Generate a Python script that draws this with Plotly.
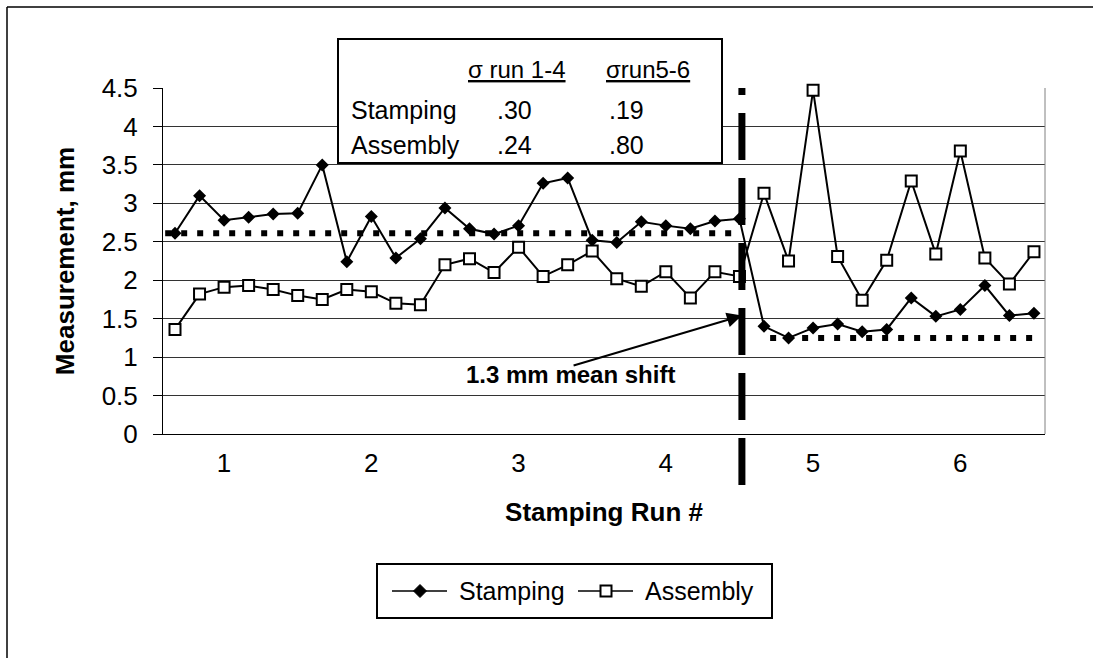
import plotly.graph_objects as go

# ---------------- data ----------------
run_labels = ["1", "2", "3", "4", "5", "6"]
samples_per_run = 6
stamping = [2.61, 3.10, 2.78, 2.82, 2.86, 2.87, 3.50, 2.24, 2.83, 2.29, 2.54, 2.94,
            2.67, 2.60, 2.71, 3.26, 3.33, 2.52, 2.49, 2.76, 2.71, 2.67, 2.77, 2.80,
            1.40, 1.25, 1.38, 1.43, 1.33, 1.36, 1.77, 1.53, 1.62, 1.93, 1.54, 1.57]
assembly = [1.36, 1.82, 1.91, 1.93, 1.88, 1.80, 1.75, 1.88, 1.85, 1.70, 1.68, 2.20,
            2.28, 2.10, 2.43, 2.05, 2.20, 2.38, 2.02, 1.92, 2.11, 1.77, 2.11, 2.05,
            3.13, 2.25, 4.47, 2.31, 1.74, 2.26, 3.29, 2.34, 3.68, 2.29, 1.95, 2.37]
mean_runs_1_4 = 2.61
mean_runs_5_6 = 1.25
series_names = ["Stamping", "Assembly"]
table_headers = ["σ run 1-4", "σrun5-6"]
table_rows = ["Stamping", "Assembly"]
table_values = [[".30", ".19"], [".24", ".80"]]
shift_label = "1.3 mm mean shift"
shift_point_value = 1.54

# ---------------- layout helpers ----------------
W, H = 1093, 658
L, R, T, B = 163, 48, 88, 224
PW = W - L - R
PH = H - T - B
FONT = "Arial, Liberation Sans, sans-serif"
X_RANGE = [-0.489, 35.45]
Y_RANGE = [0, 4.5]


def px(x):
    return (x - L) / PW


def py(y):
    return (H - B - y) / PH


n = len(stamping)
xs = list(range(n))
tickvals = [i * samples_per_run + 2 for i in range(len(run_labels))]
n_before = 4 * samples_per_run
boundary_x = n_before - 1 + 0.1

dot_line = dict(color="black", width=6, dash="6px,10px")
stamp_marker = dict(symbol="diamond", size=10, color="black")
asm_marker = dict(symbol="square", size=11, color="white", line=dict(color="black", width=2))

fig = go.Figure()

# mean lines
fig.add_trace(go.Scatter(x=[-0.4, n_before - 1], y=[mean_runs_1_4] * 2, mode="lines",
                         line=dot_line, showlegend=False, hoverinfo="skip"))
fig.add_trace(go.Scatter(x=[n_before + 0.25, n - 1], y=[mean_runs_5_6] * 2, mode="lines",
                         line=dot_line, showlegend=False, hoverinfo="skip"))

fig.add_trace(go.Scatter(x=xs, y=stamping, mode="lines+markers", name=series_names[0],
                         line=dict(color="black", width=2), marker=stamp_marker,
                         showlegend=False, cliponaxis=False))
fig.add_trace(go.Scatter(x=xs, y=assembly, mode="lines+markers", name=series_names[1],
                         line=dict(color="black", width=2), marker=asm_marker,
                         showlegend=False, cliponaxis=False))

shapes = []
annotations = []

# ---- custom legend (box, sample lines, symbols, labels) ----
LEG_Y = 591
shapes.append(dict(type="rect", xref="paper", yref="paper", x0=px(377), x1=px(772),
                   y0=py(618), y1=py(564), line=dict(color="black", width=2)))
leg_lines = [(392, 447), (578, 633)]
leg_text_x = [457, 643]
for k in range(2):
    shapes.append(dict(type="line", xref="paper", yref="paper", x0=px(leg_lines[k][0]),
                       x1=px(leg_lines[k][1]), y0=py(LEG_Y), y1=py(LEG_Y),
                       line=dict(color="black", width=1.5)))
    annotations.append(dict(xref="paper", yref="paper", x=px(leg_text_x[k]), y=py(LEG_Y),
                            text=series_names[k], showarrow=False, xanchor="left",
                            yanchor="middle", font=dict(family=FONT, size=25, color="black")))
# diamond symbol
cx, r = 420, 6.5
diamond_path = "M {a},{b} L {c},{d} L {a},{e} L {f},{d} Z".format(
    a=px(cx), b=py(LEG_Y - r), c=px(cx + r), d=py(LEG_Y), e=py(LEG_Y + r), f=px(cx - r))
shapes.append(dict(type="path", xref="paper", yref="paper", path=diamond_path,
                   fillcolor="black", line=dict(color="black", width=1)))
# square symbol
cx, r = 606, 5.5
shapes.append(dict(type="rect", xref="paper", yref="paper", x0=px(cx - r), x1=px(cx + r),
                   y0=py(LEG_Y + r), y1=py(LEG_Y - r), fillcolor="white",
                   line=dict(color="black", width=2)))

# vertical dashed separator
shapes.append(dict(type="line", xref="x", yref="paper", x0=boundary_x, x1=boundary_x,
                   y0=py(485), y1=py(88), line=dict(color="black", width=7, dash="47px,18px"),
                   layer="above"))
# right border of plot area
shapes.append(dict(type="line", xref="paper", yref="paper", x0=1, x1=1, y0=0, y1=1,
                   line=dict(color="#808080", width=1)))
# sigma table box
shapes.append(dict(type="rect", xref="paper", yref="paper", x0=px(338), x1=px(722),
                   y0=py(163), y1=py(39), fillcolor="white",
                   line=dict(color="black", width=2), layer="above"))
# outer frame (left & top)
shapes.append(dict(type="line", xref="paper", yref="paper", x0=px(7), x1=px(7),
                   y0=py(H), y1=py(7), line=dict(color="black", width=1.5)))
shapes.append(dict(type="line", xref="paper", yref="paper", x0=px(7), x1=px(W),
                   y0=py(7), y1=py(7), line=dict(color="black", width=1.5)))

tf = dict(family=FONT, size=25, color="black")
hdr_x = [516.5, 648]
val_x = [514, 626.5]
row_y = [110, 145]
for j, h in enumerate(table_headers):
    annotations.append(dict(xref="paper", yref="paper", x=px(hdr_x[j]), y=py(70),
                            text=h, showarrow=False, xanchor="center", yanchor="middle",
                            font=dict(family=FONT, size=24, color="black", lineposition="under")))
for i, rname in enumerate(table_rows):
    annotations.append(dict(xref="paper", yref="paper", x=px(349), y=py(row_y[i]),
                            text=rname, showarrow=False, xanchor="left", yanchor="middle",
                            font=tf))
    for j, v in enumerate(table_values[i]):
        annotations.append(dict(xref="paper", yref="paper", x=px(val_x[j]), y=py(row_y[i]),
                                text=v, showarrow=False, xanchor="center", yanchor="middle",
                                font=tf))

# mean shift arrow and label
annotations.append(dict(x=boundary_x, y=shift_point_value, xref="x", yref="y",
                        ax=16.18, ay=0.885, axref="x", ayref="y", text="",
                        showarrow=True, arrowhead=2, arrowsize=1.5, arrowwidth=2,
                        arrowcolor="black"))
annotations.append(dict(x=16.1, y=0.77, xref="x", yref="y", text="<b>" + shift_label + "</b>",
                        showarrow=False, xanchor="center", yanchor="middle",
                        font=dict(family=FONT, size=24, color="black")))

fig.update_layout(
    width=W, height=H, autosize=False,
    margin=dict(l=L, r=R, t=T, b=B, pad=0),
    paper_bgcolor="white", plot_bgcolor="white",
    font=dict(family=FONT, color="black"),
    shapes=shapes, annotations=annotations, showlegend=False,
    xaxis=dict(range=X_RANGE, tickvals=tickvals, ticktext=run_labels,
               showgrid=False, zeroline=False, showline=True, linecolor="black", linewidth=1,
               ticks="", tickfont=dict(family=FONT, size=26), ticklabelstandoff=6,
               title=dict(text="<b>Stamping Run #</b>", font=dict(family=FONT, size=26),
                          standoff=25)),
    yaxis=dict(range=Y_RANGE, dtick=0.5, showgrid=True, gridcolor="#333333", gridwidth=1,
               zeroline=False, showline=True, linecolor="black", linewidth=1,
               ticks="outside", ticklen=9, tickcolor="black",
               tickfont=dict(family=FONT, size=26), ticklabelstandoff=10,
               title=dict(text="<b>Measurement, mm</b>", font=dict(family=FONT, size=26),
                          standoff=19)),
)

fig.write_html("out.html")
